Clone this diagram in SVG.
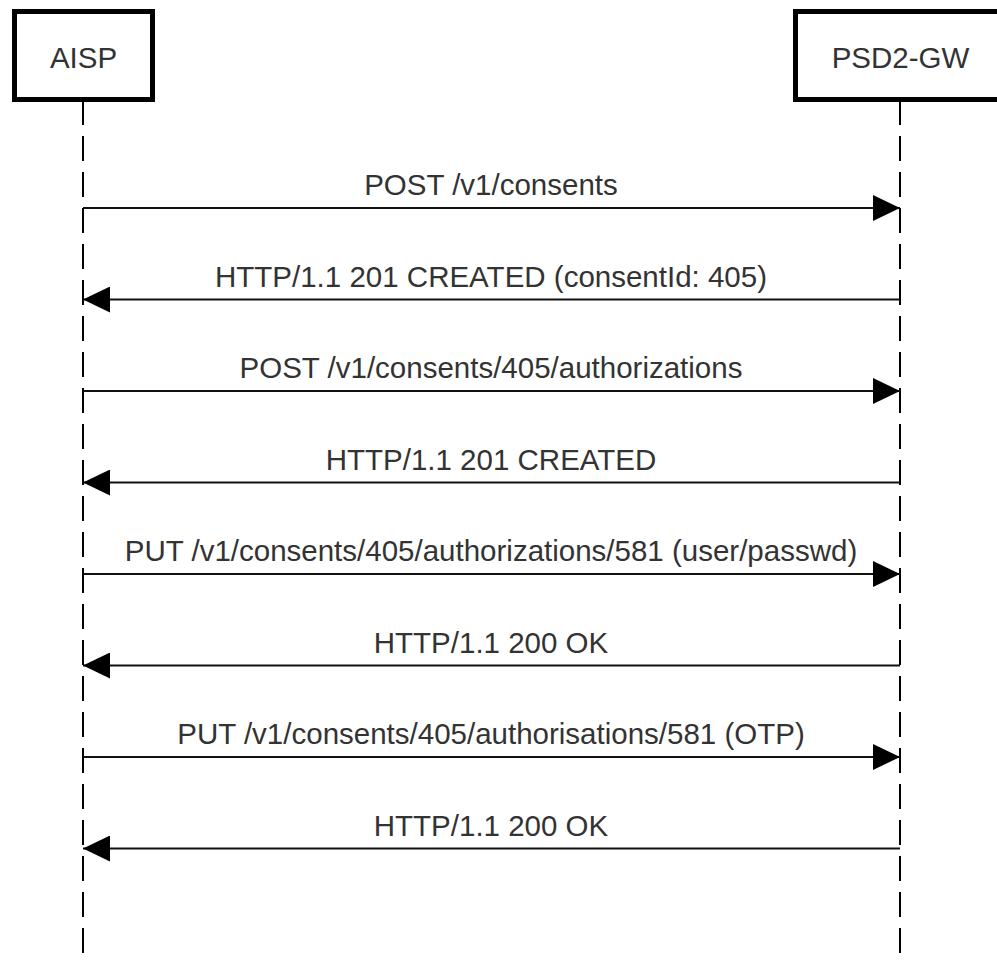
<svg xmlns="http://www.w3.org/2000/svg" width="997" height="961" viewBox="0 0 997 961">
  <style>
    .actor { fill: #ffffff; stroke: #000000; stroke-width: 5; }
    .lifeline { stroke: #000000; stroke-width: 2; stroke-dasharray: 25 11; fill: none; }
    .msg { stroke: #111111; stroke-width: 2; fill: none; marker-end: url(#head); }
    .label { font-family: "Liberation Sans", Arial, sans-serif; font-size: 29.5px; fill: #333333; text-anchor: middle; }
  </style>
  <defs>
    <marker id="head" viewBox="0 0 27 26" refX="27" refY="13" markerWidth="27" markerHeight="26" markerUnits="userSpaceOnUse" orient="auto">
      <path d="M0,0 L27,13 L0,26 Z" fill="#000000"/>
    </marker>
  </defs>
  <rect width="997" height="961" fill="#ffffff"/>

  <!-- participants -->
  <g id="aisp">
    <line class="lifeline" x1="83" y1="100" x2="83" y2="961"/>
    <rect class="actor" x="14.5" y="11.5" width="138" height="88"/>
    <text class="label" x="83.5" y="67.5">AISP</text>
  </g>
  <g id="psd2-gw">
    <line class="lifeline" x1="900" y1="100" x2="900" y2="961"/>
    <rect class="actor" x="795.5" y="11.5" width="210" height="88"/>
    <text class="label" x="900.5" y="67.5">PSD2-GW</text>
  </g>

  <!-- messages -->
  <g id="messages">
    <line class="msg" x1="83" y1="208" x2="900" y2="208"/>
    <text class="label" x="491" y="195">POST /v1/consents</text>

    <line class="msg" x1="900" y1="299.5" x2="83" y2="299.5"/>
    <text class="label" x="491" y="287">HTTP/1.1 201 CREATED (consentId: 405)</text>

    <line class="msg" x1="83" y1="391" x2="900" y2="391"/>
    <text class="label" x="491" y="378">POST /v1/consents/405/authorizations</text>

    <line class="msg" x1="900" y1="482.5" x2="83" y2="482.5"/>
    <text class="label" x="491" y="470">HTTP/1.1 201 CREATED</text>

    <line class="msg" x1="83" y1="574" x2="900" y2="574"/>
    <text class="label" x="491" y="561">PUT /v1/consents/405/authorizations/581 (user/passwd)</text>

    <line class="msg" x1="900" y1="665.5" x2="83" y2="665.5"/>
    <text class="label" x="491" y="653">HTTP/1.1 200 OK</text>

    <line class="msg" x1="83" y1="757" x2="900" y2="757"/>
    <text class="label" x="491" y="744">PUT /v1/consents/405/authorisations/581 (OTP)</text>

    <line class="msg" x1="900" y1="848.5" x2="83" y2="848.5"/>
    <text class="label" x="491" y="836">HTTP/1.1 200 OK</text>
  </g>
</svg>
